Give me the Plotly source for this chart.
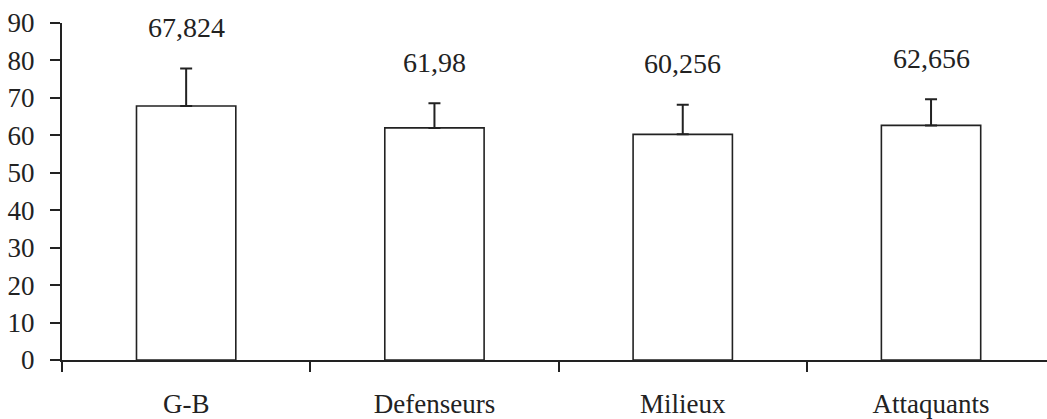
import plotly.graph_objects as go

categories = ["G-B", "Defenseurs", "Milieux", "Attaquants"]
means = [67.824, 61.98, 60.256, 62.656]
errors = [10.0, 6.6, 7.9, 7.0]
labels = ["67,824", "61,98", "60,256", "62,656"]
y_ticks = [0, 10, 20, 30, 40, 50, 60, 70, 80, 90]

FONT = "Liberation Serif, Times New Roman, serif"
INK = "#222222"

fig = go.Figure()
fig.add_trace(go.Bar(
    x=categories,
    y=means,
    width=0.4,
    marker=dict(color="white", line=dict(color=INK, width=1.6)),
    error_y=dict(type="data", symmetric=False, array=errors,
                 arrayminus=[0] * len(errors), color=INK, thickness=2, width=6),
    showlegend=False,
    hoverinfo="skip",
))

for c, m, e, t in zip(categories, means, errors, labels):
    fig.add_annotation(x=c, y=m + e, text=t, showarrow=False,
                       yanchor="middle", yshift=41,
                       font=dict(family=FONT, size=28, color=INK))

fig.update_layout(
    width=1047, height=419,
    margin=dict(l=62, r=0, t=23, b=59),
    paper_bgcolor="white", plot_bgcolor="white",
    font=dict(family=FONT, size=27, color=INK),
    bargap=0.6,
)
fig.update_xaxes(
    range=[-0.5, 3.467],
    showline=True, linecolor=INK, linewidth=2,
    ticks="outside", tickson="boundaries", ticklen=10, tickwidth=2, tickcolor=INK,
    showgrid=False, zeroline=False,
    tickfont=dict(family=FONT, size=27, color=INK),
    ticklabelstandoff=19,
)
fig.update_yaxes(
    range=[0, 90],
    tickvals=y_ticks, ticktext=[str(v) for v in y_ticks],
    showline=True, linecolor=INK, linewidth=2,
    ticks="outside", ticklen=10, tickwidth=2, tickcolor=INK,
    showgrid=False, zeroline=False,
    tickfont=dict(family=FONT, size=27, color=INK),
    ticklabelstandoff=10,
)

fig.write_html("out.html")
